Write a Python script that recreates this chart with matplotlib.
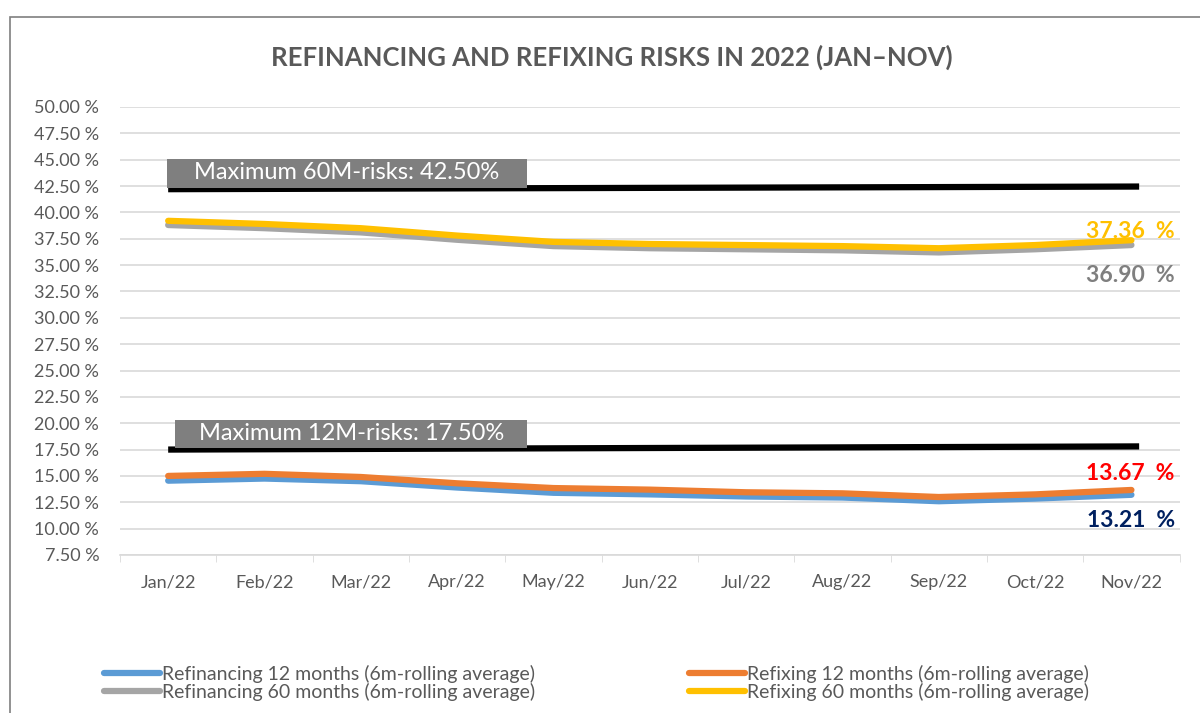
import matplotlib.pyplot as plt
from matplotlib.patches import Rectangle
import numpy as np

plt.rcParams['font.family'] = ['Lato', 'DejaVu Sans']

# data
months = ['Jan/22', 'Feb/22', 'Mar/22', 'Apr/22', 'May/22', 'Jun/22',
          'Jul/22', 'Aug/22', 'Sep/22', 'Oct/22', 'Nov/22']
refinancing_12 = [14.55, 14.75, 14.50, 13.90, 13.40, 13.25, 13.05, 12.95, 12.60, 12.85, 13.21]
refixing_12 = [15.00, 15.20, 14.90, 14.30, 13.85, 13.70, 13.45, 13.35, 13.00, 13.25, 13.67]
refinancing_60 = [38.80, 38.50, 38.10, 37.40, 36.80, 36.60, 36.50, 36.40, 36.20, 36.50, 36.90]
refixing_60 = [39.20, 38.90, 38.50, 37.80, 37.20, 37.00, 36.90, 36.80, 36.60, 36.90, 37.36]
limit_60 = [42.20, 42.45]   # drawn line, Jan -> Nov
limit_12 = [17.50, 17.80]
limit_60_label = 'Maximum 60M-risks: 42.50%'
limit_12_label = 'Maximum 12M-risks: 17.50%'
y_ticks = np.arange(7.5, 50.01, 2.5)

GREY_TXT = '#595959'

fig = plt.figure(figsize=(12, 7.13), dpi=100)
ax = fig.add_axes([0.1, 0.2216, 0.883, 0.6284])

# outer chart frame
fig.patches.append(Rectangle((10 / 1200, -0.05), 1.2, 1 - 17 / 713 + 0.05,
                             transform=fig.transFigure, fill=False,
                             edgecolor='#7f7f7f', linewidth=1.2))

x = np.arange(len(months))
lw = 4.5
ax.plot(x, refinancing_12, color='#5B9BD5', lw=lw, solid_capstyle='round', zorder=3,
        label='Refinancing 12 months (6m-rolling average)')
ax.plot(x, refixing_12, color='#ED7D31', lw=lw, solid_capstyle='round', zorder=4,
        label='Refixing 12 months (6m-rolling average)')
ax.plot(x, refinancing_60, color='#A5A5A5', lw=lw, solid_capstyle='round', zorder=3,
        label='Refinancing 60 months (6m-rolling average)')
ax.plot(x, refixing_60, color='#FFC000', lw=lw, solid_capstyle='round', zorder=4,
        label='Refixing 60 months (6m-rolling average)')

# limit lines with grey label boxes
for lim, lab, x0, x1 in [(limit_60, limit_60_label, -0.01, 3.72),
                         (limit_12, limit_12_label, 0.07, 3.73)]:
    ax.plot([x[0], x[-1] + 0.08], lim, color='black', lw=4.5, zorder=5,
            solid_capstyle='butt')
    top = lim[0] + 2.85
    ax.add_patch(Rectangle((x0, lim[0] + 0.15), x1 - x0, top - lim[0] - 0.15,
                           facecolor='#7f7f7f', edgecolor='none', zorder=6))
    ax.text((x0 + x1) / 2, lim[0] + 1.55, lab, color='white', fontsize=17,
            ha='center', va='center', zorder=7)

# end labels
ax.text(10.45, 38.15, f'{refixing_60[-1]:.2f}  %', color='#FFC000', fontsize=16.5,
        fontweight='bold', ha='right', va='center')
ax.text(10.45, 34.0, f'{refinancing_60[-1]:.2f}  %', color='#7F7F7F', fontsize=16.5,
        fontweight='bold', ha='right', va='center')
ax.text(10.45, 15.2, f'{refixing_12[-1]:.2f}  %', color='#FF0000', fontsize=16.5,
        fontweight='bold', ha='right', va='center')
ax.text(10.45, 10.75, f'{refinancing_12[-1]:.2f}  %', color='#002060', fontsize=16.5,
        fontweight='bold', ha='right', va='center')

ax.set_xlim(-0.5, 10.5)
ax.set_ylim(7.5, 50)
ax.set_yticks(y_ticks)
ax.set_yticklabels([f'{v:.2f} %' for v in y_ticks])
ax.set_xticks(x)
ax.set_xticklabels(months)
ax.set_xticks(np.arange(-0.5, 10.6, 1), minor=True)
ax.tick_params(axis='x', which='major', length=0, pad=14, labelsize=13, labelcolor=GREY_TXT)
ax.tick_params(axis='x', which='minor', length=5, color='#D9D9D9')
ax.tick_params(axis='y', length=0, pad=15, labelsize=13, labelcolor=GREY_TXT)
for lbl in ax.get_yticklabels():
    lbl.set_horizontalalignment('right')

ax.grid(axis='y', color='#D9D9D9', lw=1.2)
ax.set_axisbelow(True)
for s in ['top', 'right', 'left']:
    ax.spines[s].set_visible(False)
ax.spines['bottom'].set_color('#D9D9D9')
ax.spines['bottom'].set_linewidth(1.2)

fig.text(0.51, 0.92, 'REFINANCING AND REFIXING RISKS IN 2022 (JAN\u2013NOV)',
         ha='center', va='center', fontsize=18.5, fontweight='bold', color=GREY_TXT)

h, l = ax.get_legend_handles_labels()
order = [0, 2, 1, 3]
leg = fig.legend([h[i] for i in order], [l[i] for i in order], ncol=2,
                 loc='upper left', bbox_to_anchor=(0.08, 0.078), frameon=False,
                 fontsize=14, handlelength=2.9, handletextpad=0.1,
                 columnspacing=7.9, labelspacing=0.0, borderaxespad=0)
for t in leg.get_texts():
    t.set_color(GREY_TXT)

fig.savefig('out.png', dpi=100)
